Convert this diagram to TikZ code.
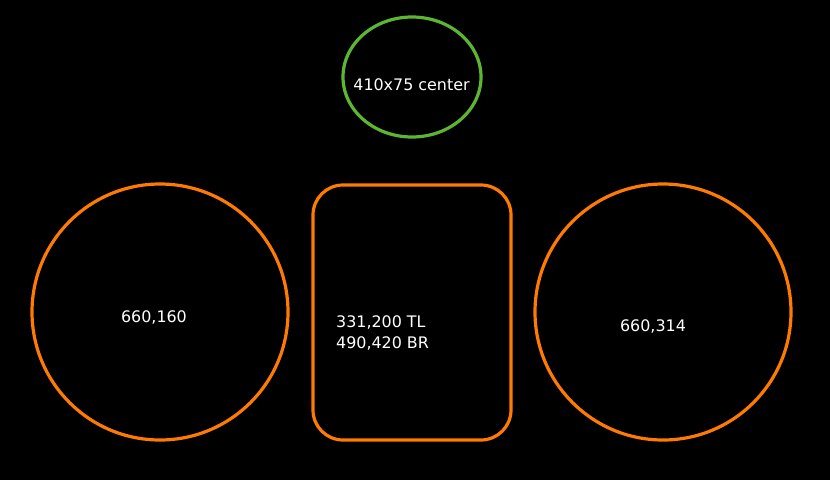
\documentclass[tikz,border=0pt]{standalone}
\usepackage{fontspec}
\setmainfont{DejaVu Sans}
\usetikzlibrary{shapes.geometric}
\definecolor{orng}{RGB}{255,122,0}
\definecolor{grn}{RGB}{92,182,48}
\begin{document}
\begin{tikzpicture}[x=1pt,y=-1pt,
  shapeline/.style={line width=3.2pt},
  lbl/.style={text=white,font=\fontsize{15.9}{21}\selectfont,inner sep=0pt,anchor=base}]
\fill[black] (0,0) rectangle (830,480);
\useasboundingbox (0,0) rectangle (830,480);
\draw[shapeline,grn] (412,77) ellipse [x radius=69, y radius=60];
\draw[shapeline,orng] (160,312) circle [radius=128];
\draw[shapeline,orng] (663,312) circle [radius=128];
\draw[shapeline,orng,rounded corners=30pt] (313,185) rectangle (511,440);
\node[lbl] (t1) at (411.5,90.5) {410x75 center};
\node[lbl] (t2) at (154,322.5) {660,160};
\node[lbl] (t3) at (653,331.5) {660,314};
\node[lbl,anchor=base west] (t4) at (336,327.5) {331,200 TL};
\node[lbl,anchor=base west] (t5) at (336,348.5) {490,420 BR};
\end{tikzpicture}
\end{document}
